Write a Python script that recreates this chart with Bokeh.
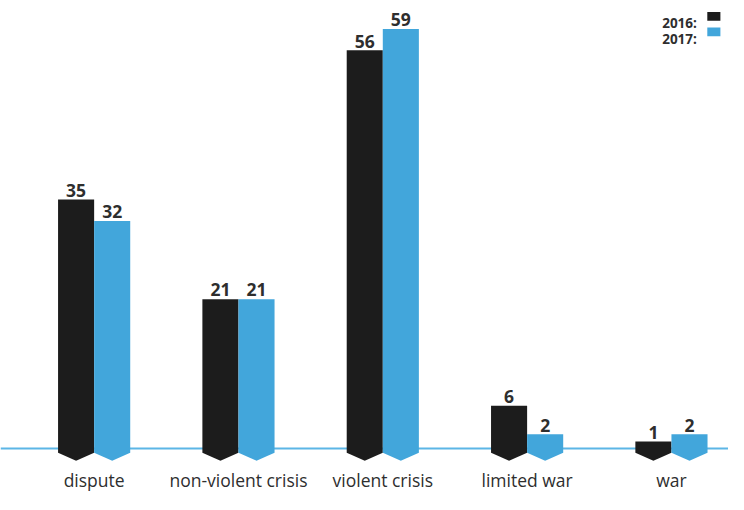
from bokeh.plotting import figure
from bokeh.models import ColumnDataSource, Span, Label, BoxAnnotation, Range1d
from bokeh.core.properties import value
from bokeh.embed import file_html
from bokeh.resources import INLINE

categories = ["dispute", "non-violent crisis", "violent crisis", "limited war", "war"]
years = ["2016:", "2017:"]
v2016 = [35, 21, 56, 6, 1]
v2017 = [32, 21, 59, 2, 2]

COL16 = "#1c1c1c"
COL17 = "#42a6db"
BASE = "#5cb6e6"
TXT = "#2e2e2e"

W = 0.25      # bar width in category units
SIDE = 0.6    # straight side below baseline
TIP = 1.72    # chevron tip below baseline

FW, FH = 728, 494


def shapes(vals, off):
    xs, ys, cx = [], [], []
    for i, v in enumerate(vals):
        x0 = i + off
        x1 = x0 + W
        xm = x0 + W / 2
        xs.append([x0, x1, x1, xm, x0])
        ys.append([v, v, -SIDE, -TIP, -SIDE])
        cx.append(xm)
    return xs, ys, cx


p = figure(width=FW, height=FH, output_backend="svg", toolbar_location=None,
           x_range=Range1d(-0.6488, 4.3953), y_range=Range1d(-6.468, 62.99),
           min_border_left=0, min_border_right=0, min_border_top=0, min_border_bottom=0)
p.outline_line_color = None
p.grid.visible = False
p.xaxis.visible = False
p.yaxis.visible = False
p.background_fill_color = "white"
p.border_fill_color = "white"

p.add_layout(Span(location=0, dimension="width", line_color=BASE, line_width=2.1,
                  level="underlay"))

for vals, off, col in ((v2016, -W, COL16), (v2017, 0.0, COL17)):
    xs, ys, cx = shapes(vals, off)
    src = ColumnDataSource(dict(xs=xs, ys=ys))
    p.patches("xs", "ys", source=src, fill_color=col, line_color=None)
    lsrc = ColumnDataSource(dict(x=cx, y=vals, t=[str(v) for v in vals]))
    p.text("x", "y", text="t", source=lsrc, text_align="center", text_baseline="alphabetic",
           y_offset=-9.2, text_font=value("Open Sans"), text_font_style="bold",
           text_font_size="17.5px", text_color=TXT)

# category labels under the baseline
csrc = ColumnDataSource(dict(x=list(range(len(categories))), y=[0] * len(categories),
                             t=categories))
p.text("x", "y", text="t", source=csrc, text_align="center", text_baseline="alphabetic",
       y_offset=32, text_font=value("Open Sans"), text_font_size="17.5px", text_color=TXT)

# legend (text left, swatch right), in screen units relative to the frame
leg_base = [471.4, 455.9]
for yr, ly, col in zip(years, leg_base, (COL16, COL17)):
    p.add_layout(Label(x=696.4, y=ly, x_units="screen", y_units="screen", text=yr,
                       text_align="right", text_baseline="alphabetic",
                       text_font="Open Sans", text_font_style="bold",
                       text_font_size="13.5px", text_color=TXT))
    p.add_layout(BoxAnnotation(left=706.8, right=719.9, bottom=ly + 2.3, top=ly + 11.0,
                               left_units="screen", right_units="screen",
                               bottom_units="screen", top_units="screen",
                               fill_color=col, fill_alpha=1.0, line_color=None))

open("out.html", "w").write(file_html(p, INLINE))
